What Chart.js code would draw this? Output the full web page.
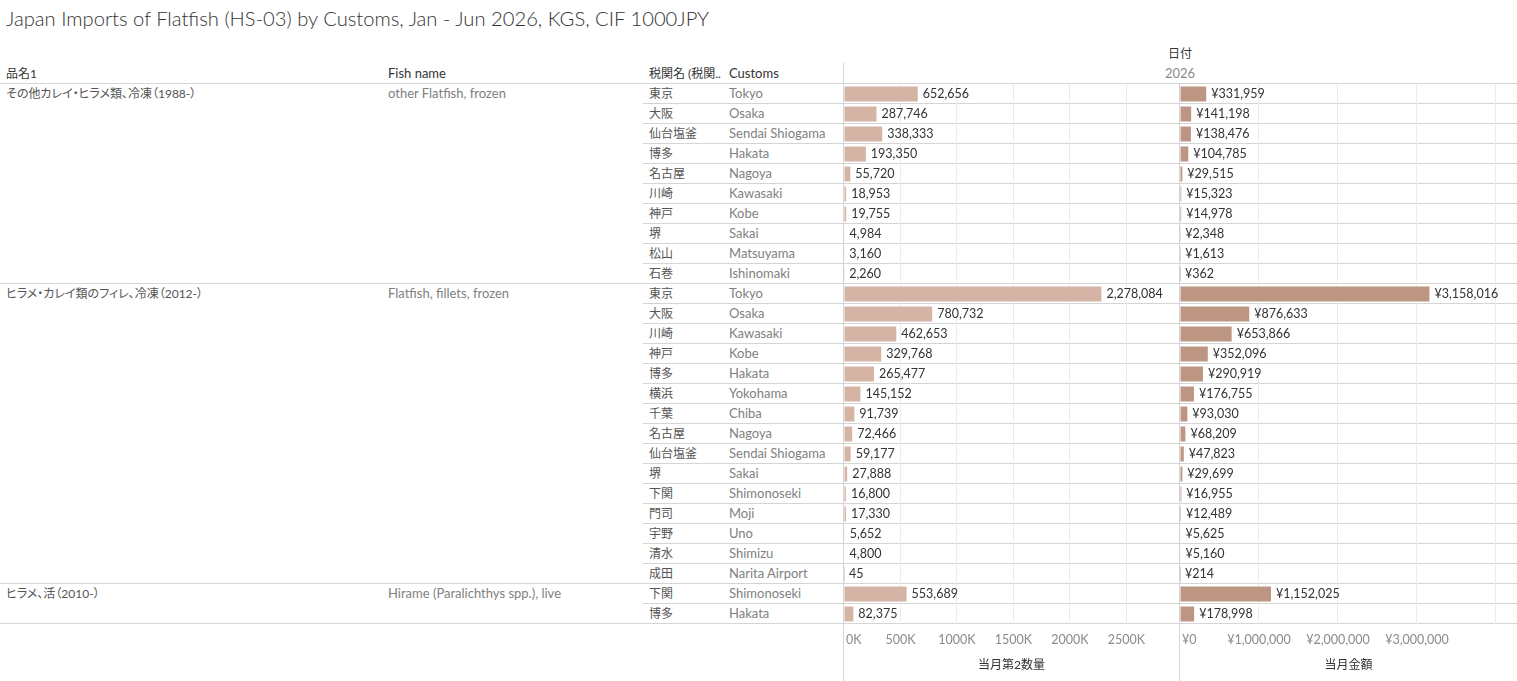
<!DOCTYPE html>
<html>
<head>
<meta charset="utf-8">
<script src="https://cdn.jsdelivr.net/npm/chart.js@4.4.1/dist/chart.umd.min.js"></script>
<style>
  body { margin: 0; width: 1517px; height: 681px; background: #fff; overflow: hidden;
         font-family: Lato, "Noto Sans CJK JP", sans-serif; }
  .t { position: absolute; white-space: nowrap; font-size: 13px; line-height: 19px; }
  .jp { font-size: 12px; }
  .en { color: #7f7f7f; }
  .hl { position: absolute; height: 1px; background: #d5d5d5; }
  .vl { position: absolute; width: 1px; background: #d5d5d5; }
  .pane { position: absolute; top: 84px; height: 597px; }
  #title { position: absolute; left: 6px; top: 6px; font-size: 20.2px; font-weight: 300; color: #333; white-space: nowrap; }
</style>
</head>
<body>
<div id="title">Japan Imports of Flatfish (HS-03) by Customs, Jan - Jun 2026, KGS, CIF 1000JPY</div>
<div id="grid"></div>
<div class="pane" style="left:844px;width:335px"><canvas id="qtyChart"></canvas></div>
<div class="pane" style="left:1180px;width:337px"><canvas id="amtChart"></canvas></div>
<script>
/* Flatfish imports by customs — table text + two bar panes */
var productJa = ['その他カレイ・ヒラメ類、冷凍（1988-）', 'ヒラメ・カレイ類のフィレ、冷凍（2012-）', 'ヒラメ、活（2010-）'];
var fishName  = ['other Flatfish, frozen', 'Flatfish, fillets, frozen', 'Hirame (Paralichthys spp.), live'];
var groupSize = [10, 15, 2];

var customsJa = ['東京','大阪','仙台塩釜','博多','名古屋','川崎','神戸','堺','松山','石巻',
                 '東京','大阪','川崎','神戸','博多','横浜','千葉','名古屋','仙台塩釜','堺','下関','門司','宇野','清水','成田',
                 '下関','博多'];
var customsEn = ['Tokyo','Osaka','Sendai Shiogama','Hakata','Nagoya','Kawasaki','Kobe','Sakai','Matsuyama','Ishinomaki',
                 'Tokyo','Osaka','Kawasaki','Kobe','Hakata','Yokohama','Chiba','Nagoya','Sendai Shiogama','Sakai','Shimonoseki','Moji','Uno','Shimizu','Narita Airport',
                 'Shimonoseki','Hakata'];
var quantity  = [652656, 287746, 338333, 193350, 55720, 18953, 19755, 4984, 3160, 2260,
                 2278084, 780732, 462653, 329768, 265477, 145152, 91739, 72466, 59177, 27888, 16800, 17330, 5652, 4800, 45,
                 553689, 82375];
var amount    = [331959, 141198, 138476, 104785, 29515, 15323, 14978, 2348, 1613, 362,
                 3158016, 876633, 653866, 352096, 290919, 176755, 93030, 68209, 47823, 29699, 16955, 12489, 5625, 5160, 214,
                 1152025, 178998];

var qtyTickValues = [0, 500000, 1000000, 1500000, 2000000, 2500000];
var amtTickValues = [0, 1000000, 2000000, 3000000, 4000000];
var qtyTicks = function(v) { return (v / 1000) + 'K'; };
var amtTicks = function(v) { return '¥' + v.toLocaleString('en-US'); };

var ROW_TOP = 84, ROW_H = 20;
var grid = document.getElementById('grid');

function add(cls, css, text) {
    var d = document.createElement('div');
    d.className = cls;
    d.style.cssText = css;
    if (text !== undefined) d.textContent = text;
    grid.appendChild(d);
    return d;
}

// header
add('t jp', 'left:6px;top:64px;color:#333', '品名1');
add('t', 'left:388px;top:64px;color:#333', 'Fish name');
add('t jp', 'left:649px;top:64px;color:#333', '税関名 (税関..');
add('t', 'left:729px;top:64px;color:#333', 'Customs');
add('t jp', 'left:1130px;width:100px;text-align:center;top:44px;color:#333', '日付');
add('t', 'left:1130px;width:100px;text-align:center;top:64px;color:#8a8a8a', '2026');

// rows
var groupStart = [];
var r = 0;
groupSize.forEach(function(n) { groupStart.push(r); r += n; });
groupStart.forEach(function(s, g) {
    var y = ROW_TOP + s * ROW_H;
    add('t jp', 'left:6px;top:' + y + 'px;color:#555;font-feature-settings:"palt"', productJa[g]);
    add('t en', 'left:388px;top:' + y + 'px', fishName[g]);
});
customsJa.forEach(function(name, i) {
    var y = ROW_TOP + i * ROW_H;
    add('t jp', 'left:649px;top:' + y + 'px;color:#555', name);
    add('t en', 'left:729px;top:' + y + 'px', customsEn[i]);
});

// lines
add('hl', 'left:0;width:1517px;top:' + (ROW_TOP - 1) + 'px');
for (var i = 1; i <= customsJa.length; i++) {
    var full = groupStart.indexOf(i) >= 0 || i === customsJa.length;
    add('hl', 'left:' + (full ? 0 : 643) + 'px;width:' + (full ? 1517 : 874) + 'px;top:' + (ROW_TOP - 1 + i * ROW_H) + 'px');
}
add('vl', 'left:843px;top:63px;height:618px');
add('vl', 'left:1179px;top:83px;height:598px');

var paneLabels = {
    id: 'paneLabels',
    afterDatasetsDraw: function(chart, args, opts) {
        var ctx = chart.ctx, area = chart.chartArea, xs = chart.scales.x;
        var values = chart.data.datasets[0].data;
        ctx.save();
        ctx.font = '12.5px Lato, "Noto Sans CJK JP"';
        ctx.textBaseline = 'middle';
        ctx.fillStyle = '#333';
        chart.getDatasetMeta(0).data.forEach(function(bar, i) {
            ctx.fillText(opts.label(values[i]), bar.x + 5, bar.y);
        });
        ctx.font = '12.5px Lato';
        ctx.fillStyle = '#8a8a8a';
        xs.ticks.forEach(function(t, i) {
            var px = xs.getPixelForValue(t.value), txt = opts.tick(t.value);
            var w = ctx.measureText(txt).width;
            if (i === 0) { ctx.textAlign = 'left'; ctx.fillText(txt, px + 2, area.bottom + 16); return; }
            if (px + w / 2 > chart.width) return;
            ctx.textAlign = 'center';
            ctx.fillText(txt, px, area.bottom + 16);
        });
        ctx.font = '12px Lato, "Noto Sans CJK JP"';
        ctx.fillStyle = '#333';
        ctx.textAlign = 'center';
        ctx.fillText(opts.title, (area.left + area.right) / 2, area.bottom + 41);
        ctx.restore();
    }
};

function paneChart(id, values, color, max, tickValues, tickFmt, labelFmt, title) {
    return new Chart(document.getElementById(id).getContext('2d'), {
        type: 'bar',
        data: {
            labels: customsEn,
            datasets: [{ data: values, backgroundColor: color, barPercentage: 0.75, categoryPercentage: 1 }]
        },
        options: {
            indexAxis: 'y',
            responsive: true,
            maintainAspectRatio: false,
            animation: false,
            layout: { padding: { left: 0, right: 0, top: 0, bottom: 57 } },
            scales: {
                x: {
                    min: 0, max: max,
                    afterBuildTicks: function(scale) {
                        scale.ticks = tickValues.map(function(v) { return { value: v }; });
                    },
                    ticks: { display: false },
                    grid: { drawTicks: false, color: function(c) { return c.tick && c.tick.value === 0 ? 'rgba(0,0,0,0)' : '#ececec'; } },
                    border: { display: false }
                },
                y: { display: false, grid: { display: false } }
            },
            plugins: {
                legend: { display: false },
                tooltip: { enabled: false },
                paneLabels: { tick: tickFmt, label: labelFmt, title: title }
            }
        },
        plugins: [paneLabels]
    });
}

paneChart('qtyChart', quantity, '#d6b4a5', 2965000, qtyTickValues, qtyTicks,
          function(v) { return v.toLocaleString('en-US'); }, '当月第2数量');
paneChart('amtChart', amount, '#bd9683', 4266000, amtTickValues, amtTicks,
          function(v) { return '¥' + v.toLocaleString('en-US'); }, '当月金額');
</script>
</body>
</html>
